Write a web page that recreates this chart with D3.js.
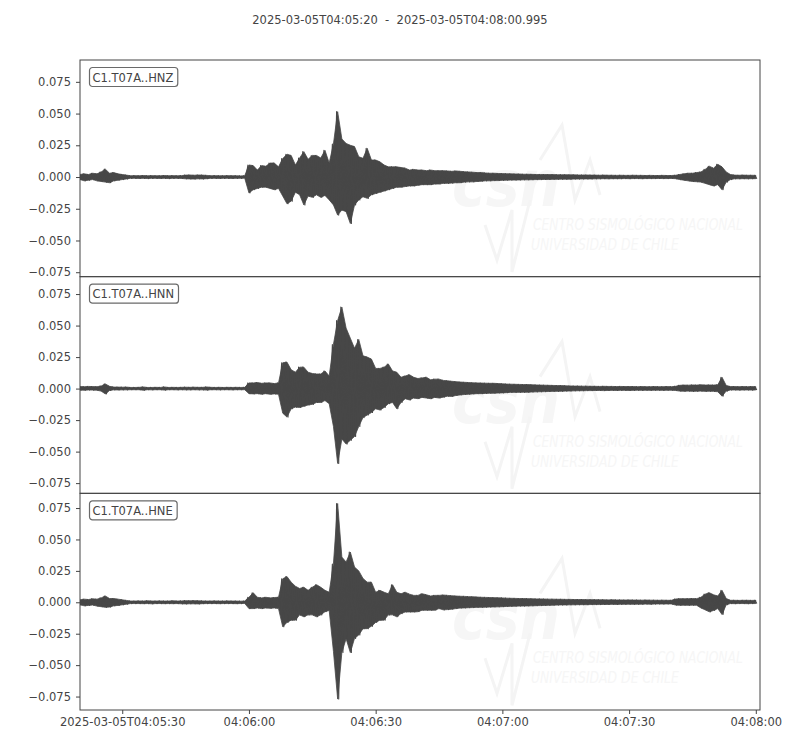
<!DOCTYPE html>
<html>
<head>
<meta charset="utf-8">
<script src="https://cdn.jsdelivr.net/npm/d3@7"></script>
<style>
  body { margin: 0; background: #fff; }
  text { font-family: "DejaVu Sans", sans-serif; }
</style>
</head>
<body>
<div id="chart"></div>
<script>
const title = "2025-03-05T04:05:20  -  2025-03-05T04:08:00.995";
const startTime = new Date(Date.UTC(2025, 2, 5, 4, 5, 20, 0));
const endTime = new Date(Date.UTC(2025, 2, 5, 4, 8, 0, 995));
const channels = ["C1.T07A..HNZ", "C1.T07A..HNN", "C1.T07A..HNE"];
const yTicks = [-0.075, -0.05, -0.025, 0, 0.025, 0.05, 0.075];
const yLimits = [[-0.0785, 0.0922], [-0.0831, 0.0888], [-0.0857, 0.0867]];

// envelope of each trace, one max/min pair per second from 04:05:20
const hnzHi = [
  0.0020, 0.0025, 0.0020, 0.0030, 0.0025, 0.0040, 0.0062, 0.0030, 0.0035, 0.0025, 0.0020, 0.0015,
  0.0010, 0.0011, 0.0010, 0.0012, 0.0010, 0.0011, 0.0010, 0.0010, 0.0012, 0.0010, 0.0011, 0.0010, 0.0011,
  0.0015, 0.0016, 0.0014, 0.0016, 0.0015, 0.0013,
  0.0010, 0.0011, 0.0010, 0.0010, 0.0011, 0.0010, 0.0010, 0.0009, 0.0010,
  0.0095, 0.0090, 0.0055, 0.0090, 0.0085, 0.0110, 0.0110, 0.0080, 0.0145, 0.0180,
  0.0170, 0.0095, 0.0150, 0.0200, 0.0140, 0.0170, 0.0170, 0.0150, 0.0210, 0.0110,
  0.0260, 0.0515, 0.0300, 0.0265, 0.0250, 0.0240, 0.0160, 0.0147, 0.0226, 0.0134,
  0.0134, 0.0120, 0.0095, 0.0080, 0.0080, 0.0080, 0.0075, 0.0070, 0.0055, 0.0060,
  0.0055, 0.0055, 0.0050, 0.0055, 0.0050, 0.0050, 0.0050, 0.0048, 0.0045, 0.0048,
  0.0045, 0.0042, 0.0040, 0.0038, 0.0035, 0.0035, 0.0032, 0.0030, 0.0030, 0.0028,
  0.0027, 0.0026, 0.0025, 0.0024, 0.0024, 0.0022, 0.0022, 0.0021, 0.0020, 0.0020,
  0.0020, 0.0019, 0.0019, 0.0018, 0.0018, 0.0018, 0.0017, 0.0017, 0.0016, 0.0016,
  0.0016,
  0.0015, 0.0015, 0.0014, 0.0015, 0.0014, 0.0014, 0.0013, 0.0014, 0.0013, 0.0013, 0.0014, 0.0013, 0.0013, 0.0012, 0.0013,
  0.0012, 0.0012, 0.0013, 0.0012, 0.0012, 0.0014,
  0.0020, 0.0025, 0.0030, 0.0030, 0.0035, 0.0040, 0.0060, 0.0085, 0.0070, 0.0100, 0.0080, 0.0040, 0.0020,
  0.0015, 0.0014, 0.0015, 0.0014, 0.0014, 0.0013
];
const hnzLo = [
  -0.0020, -0.0030, -0.0025, -0.0020, -0.0030, -0.0035, -0.0040, -0.0045, -0.0030, -0.0025, -0.0020, -0.0015,
  -0.0010, -0.0010, -0.0011, -0.0010, -0.0012, -0.0010, -0.0010, -0.0011, -0.0010, -0.0012, -0.0010, -0.0010, -0.0011,
  -0.0014, -0.0015, -0.0016, -0.0014, -0.0015, -0.0013,
  -0.0010, -0.0010, -0.0011, -0.0010, -0.0010, -0.0011, -0.0010, -0.0010, -0.0009,
  -0.0125, -0.0100, -0.0090, -0.0080, -0.0080, -0.0090, -0.0100, -0.0090, -0.0150, -0.0210,
  -0.0190, -0.0120, -0.0140, -0.0220, -0.0150, -0.0160, -0.0140, -0.0160, -0.0145, -0.0180,
  -0.0220, -0.0300, -0.0260, -0.0273, -0.0366, -0.0220, -0.0180, -0.0155, -0.0168, -0.0140,
  -0.0130, -0.0120, -0.0110, -0.0100, -0.0090, -0.0080, -0.0080, -0.0075, -0.0070, -0.0070,
  -0.0065, -0.0060, -0.0060, -0.0060, -0.0055, -0.0055, -0.0050, -0.0050, -0.0048, -0.0045,
  -0.0045, -0.0040, -0.0038, -0.0038, -0.0035, -0.0033, -0.0030, -0.0030, -0.0028, -0.0028,
  -0.0026, -0.0025, -0.0024, -0.0024, -0.0023, -0.0022, -0.0022, -0.0021, -0.0020, -0.0020,
  -0.0019, -0.0019, -0.0018, -0.0018, -0.0017, -0.0017, -0.0017, -0.0016, -0.0016, -0.0015,
  -0.0015,
  -0.0015, -0.0014, -0.0014, -0.0013, -0.0014, -0.0013, -0.0013, -0.0013, -0.0012, -0.0013, -0.0012, -0.0012, -0.0013, -0.0012, -0.0012,
  -0.0012, -0.0011, -0.0012, -0.0012, -0.0011, -0.0013,
  -0.0020, -0.0025, -0.0030, -0.0035, -0.0037, -0.0040, -0.0050, -0.0060, -0.0070, -0.0060, -0.0100, -0.0040, -0.0020,
  -0.0014, -0.0014, -0.0013, -0.0014, -0.0013, -0.0013
];
const hnnHi = [
  0.0016, 0.0015, 0.0017, 0.0016, 0.0015, 0.0020, 0.0037, 0.0018, 0.0012, 0.0012, 0.0011, 0.0012,
  0.0009, 0.0009, 0.0010, 0.0013, 0.0009, 0.0009, 0.0010, 0.0009, 0.0013, 0.0009, 0.0010, 0.0009, 0.0010, 0.0011,
  0.0010, 0.0011, 0.0010, 0.0010, 0.0013, 0.0010, 0.0009, 0.0010, 0.0009, 0.0010, 0.0009, 0.0010, 0.0009, 0.0010,
  0.0045, 0.0045, 0.0048, 0.0042, 0.0045, 0.0045, 0.0040, 0.0045, 0.0205, 0.0210,
  0.0150, 0.0130, 0.0170, 0.0170, 0.0130, 0.0120, 0.0116, 0.0116, 0.0140, 0.0100,
  0.0350, 0.0540, 0.0647, 0.0480, 0.0400, 0.0320, 0.0390, 0.0260, 0.0250, 0.0234,
  0.0160, 0.0160, 0.0170, 0.0195, 0.0140, 0.0130, 0.0090, 0.0100, 0.0110, 0.0090,
  0.0080, 0.0085, 0.0090, 0.0070, 0.0075, 0.0075, 0.0065, 0.0062, 0.0058, 0.0055,
  0.0052, 0.0050, 0.0048, 0.0046, 0.0045, 0.0044, 0.0043, 0.0042, 0.0042, 0.0040,
  0.0038, 0.0036, 0.0035, 0.0034, 0.0033, 0.0032, 0.0032, 0.0030, 0.0029, 0.0028,
  0.0027, 0.0026, 0.0025, 0.0024, 0.0024, 0.0022, 0.0021, 0.0020, 0.0020, 0.0019,
  0.0019,
  0.0018, 0.0018, 0.0017, 0.0018, 0.0017, 0.0017, 0.0016, 0.0017, 0.0016, 0.0016,
  0.0016, 0.0015, 0.0016, 0.0015, 0.0015, 0.0016, 0.0015, 0.0015, 0.0016, 0.0015,
  0.0018,
  0.0026, 0.0028, 0.0027, 0.0029, 0.0028, 0.0030, 0.0028, 0.0029, 0.0028,
  0.0030, 0.0090, 0.0025,
  0.0016, 0.0016, 0.0015, 0.0016, 0.0015, 0.0016, 0.0015
];
const hnnLo = [
  -0.0012, -0.0013, -0.0011, -0.0012, -0.0013, -0.0020, -0.0042, -0.0015, -0.0010, -0.0011, -0.0010, -0.0010,
  -0.0009, -0.0009, -0.0009, -0.0013, -0.0009, -0.0010, -0.0009, -0.0009, -0.0012, -0.0009, -0.0009, -0.0010, -0.0009, -0.0010,
  -0.0010, -0.0009, -0.0010, -0.0010, -0.0012, -0.0009, -0.0009, -0.0010, -0.0009, -0.0009, -0.0010, -0.0009, -0.0009, -0.0009,
  -0.0040, -0.0042, -0.0040, -0.0045, -0.0040, -0.0045, -0.0042, -0.0045, -0.0195, -0.0226,
  -0.0160, -0.0147, -0.0150, -0.0140, -0.0130, -0.0125, -0.0110, -0.0110, -0.0095, -0.0120,
  -0.0300, -0.0594, -0.0400, -0.0440, -0.0410, -0.0380, -0.0300, -0.0230, -0.0210, -0.0190,
  -0.0160, -0.0170, -0.0150, -0.0120, -0.0110, -0.0160, -0.0110, -0.0080, -0.0090, -0.0075,
  -0.0080, -0.0070, -0.0075, -0.0080, -0.0070, -0.0075, -0.0068, -0.0060, -0.0062, -0.0055,
  -0.0050, -0.0047, -0.0045, -0.0042, -0.0040, -0.0040, -0.0038, -0.0037, -0.0037, -0.0035,
  -0.0034, -0.0032, -0.0030, -0.0030, -0.0030, -0.0029, -0.0029, -0.0027, -0.0026, -0.0025,
  -0.0024, -0.0023, -0.0022, -0.0022, -0.0021, -0.0020, -0.0019, -0.0018, -0.0017, -0.0017,
  -0.0016,
  -0.0016, -0.0015, -0.0015, -0.0016, -0.0015, -0.0014, -0.0015, -0.0014, -0.0014, -0.0015,
  -0.0014, -0.0013, -0.0014, -0.0013, -0.0014, -0.0013, -0.0013, -0.0014, -0.0013, -0.0013,
  -0.0015,
  -0.0020, -0.0021, -0.0020, -0.0022, -0.0021, -0.0020, -0.0022, -0.0021, -0.0022,
  -0.0025, -0.0060, -0.0020,
  -0.0011, -0.0011, -0.0012, -0.0011, -0.0011, -0.0012, -0.0011
];
const hneHi = [
  0.0020, 0.0025, 0.0022, 0.0028, 0.0025, 0.0035, 0.0050, 0.0030, 0.0030, 0.0025, 0.0020, 0.0015,
  0.0010, 0.0010, 0.0011, 0.0010, 0.0012, 0.0010, 0.0010, 0.0011, 0.0010, 0.0010, 0.0012, 0.0010, 0.0011, 0.0013,
  0.0012, 0.0013, 0.0012, 0.0011, 0.0010, 0.0010, 0.0011, 0.0010, 0.0010, 0.0011, 0.0010, 0.0010, 0.0009, 0.0010,
  0.0040, 0.0076, 0.0040, 0.0035, 0.0040, 0.0035, 0.0038, 0.0040, 0.0187, 0.0205,
  0.0160, 0.0128, 0.0110, 0.0120, 0.0095, 0.0120, 0.0140, 0.0120, 0.0095, 0.0080,
  0.0305, 0.0786, 0.0360, 0.0320, 0.0400, 0.0280, 0.0250, 0.0190, 0.0160, 0.0160,
  0.0080, 0.0095, 0.0080, 0.0068, 0.0140, 0.0080, 0.0068, 0.0080, 0.0065, 0.0055,
  0.0055, 0.0068, 0.0060, 0.0050, 0.0055, 0.0055, 0.0058, 0.0055, 0.0052, 0.0050,
  0.0048, 0.0047, 0.0045, 0.0044, 0.0042, 0.0040, 0.0039, 0.0038, 0.0037, 0.0036,
  0.0035, 0.0033, 0.0032, 0.0031, 0.0030, 0.0030, 0.0029, 0.0028, 0.0027, 0.0027,
  0.0026, 0.0025, 0.0025, 0.0024, 0.0024,
  0.0023, 0.0023, 0.0022, 0.0022, 0.0022, 0.0021, 0.0021, 0.0021,
  0.0020, 0.0020, 0.0019, 0.0020, 0.0019, 0.0019, 0.0018, 0.0019, 0.0018,
  0.0018, 0.0017, 0.0018, 0.0017, 0.0017, 0.0016, 0.0017, 0.0016, 0.0016,
  0.0026, 0.0029, 0.0028, 0.0029, 0.0030, 0.0029,
  0.0040, 0.0065, 0.0076, 0.0060, 0.0050, 0.0095, 0.0030,
  0.0016, 0.0016, 0.0015, 0.0016, 0.0016, 0.0015, 0.0016
];
const hneLo = [
  -0.0020, -0.0028, -0.0025, -0.0022, -0.0030, -0.0035, -0.0040, -0.0038, -0.0028, -0.0025, -0.0020, -0.0015,
  -0.0010, -0.0010, -0.0010, -0.0011, -0.0010, -0.0012, -0.0010, -0.0010, -0.0011, -0.0010, -0.0011, -0.0010, -0.0012, -0.0013,
  -0.0012, -0.0012, -0.0013, -0.0011, -0.0010, -0.0010, -0.0010, -0.0011, -0.0010, -0.0010, -0.0010, -0.0011, -0.0010, -0.0009,
  -0.0050, -0.0050, -0.0045, -0.0050, -0.0045, -0.0048, -0.0045, -0.0050, -0.0195, -0.0160,
  -0.0142, -0.0142, -0.0100, -0.0115, -0.0100, -0.0100, -0.0115, -0.0100, -0.0075, -0.0065,
  -0.0390, -0.0770, -0.0400, -0.0290, -0.0400, -0.0287, -0.0260, -0.0210, -0.0210, -0.0190,
  -0.0160, -0.0142, -0.0142, -0.0100, -0.0100, -0.0115, -0.0090, -0.0077, -0.0077, -0.0077,
  -0.0075, -0.0063, -0.0063, -0.0063, -0.0063, -0.0050, -0.0060, -0.0058, -0.0055, -0.0050,
  -0.0046, -0.0045, -0.0043, -0.0042, -0.0040, -0.0040, -0.0039, -0.0038, -0.0037, -0.0036,
  -0.0035, -0.0033, -0.0032, -0.0031, -0.0030, -0.0030, -0.0029, -0.0028, -0.0027, -0.0026,
  -0.0025, -0.0024, -0.0023, -0.0022, -0.0021,
  -0.0021, -0.0020, -0.0020, -0.0019, -0.0019, -0.0019, -0.0018, -0.0018,
  -0.0018, -0.0017, -0.0017, -0.0016, -0.0017, -0.0016, -0.0016, -0.0015, -0.0016,
  -0.0015, -0.0015, -0.0014, -0.0015, -0.0014, -0.0013, -0.0014, -0.0013, -0.0013,
  -0.0022, -0.0024, -0.0023, -0.0024, -0.0023, -0.0024,
  -0.0045, -0.0060, -0.0076, -0.0065, -0.0050, -0.0097, -0.0020,
  -0.0010, -0.0011, -0.0010, -0.0010, -0.0011, -0.0010, -0.0010
];

const traces = [
  { hi: hnzHi, lo: hnzLo },
  { hi: hnnHi, lo: hnnLo },
  { hi: hneHi, lo: hneLo }
];

const width = 800, height = 750;
const margin = { top: 60, right: 40, bottom: 40, left: 80 };
const plotW = width - margin.left - margin.right;
const panelH = (height - margin.top - margin.bottom) / channels.length;
const ink = "#444";
const wave = "#474747";
const fontSize = "11.5px";

const svg = d3.select("#chart")
  .append("svg")
    .attr("width", width)
    .attr("height", height);

svg.append("text")
  .attr("x", width / 2)
  .attr("y", 24)
  .attr("text-anchor", "middle")
  .style("font-size", fontSize)
  .style("white-space", "pre")
  .attr("fill", ink)
  .text(title);

const x = d3.scaleUtc()
  .domain([startTime, endTime])
  .range([margin.left, margin.left + plotW]);

const sampleTime = s => new Date(startTime.getTime() + s * 1000);

// squeeze a text horizontally so it spans a given width
function squeeze(sel, x0, y0, w) {
  const natural = sel.node().getComputedTextLength();
  sel.attr("transform", `translate(${x0},${y0}) scale(${w / natural},1)`);
}

channels.forEach((name, k) => {
  const top = margin.top + k * panelH;
  const y = d3.scaleLinear()
    .domain(yLimits[k])
    .range([top + panelH, top]);

  const panel = svg.append("g");

  panel.append("clipPath")
    .attr("id", `clip${k}`)
    .append("rect")
      .attr("x", margin.left)
      .attr("y", top)
      .attr("width", plotW)
      .attr("height", panelH);

  // faint CSN watermark
  const wm = panel.append("g").attr("fill", "#f6f6f6");
  const logo = wm.append("text")
    .style("font-size", "64px").style("font-weight", "bold").style("font-style", "italic")
    .text("csn");
  squeeze(logo, 452, top + 146, 108);
  wm.append("path")
    .attr("fill", "none").attr("stroke", "#f4f4f4").attr("stroke-width", 3)
    .attr("d", `M485,${top + 165} L497,${top + 200} L512,${top + 150} L512,${top + 212}` +
               ` L530,${top + 140} M540,${top + 100} L562,${top + 65} L575,${top + 140}` +
               ` L590,${top + 100} L600,${top + 135}`);
  const l1 = wm.append("text")
    .style("font-size", "16px").style("font-style", "italic")
    .text("CENTRO SISMOLÓGICO NACIONAL");
  squeeze(l1, 533, top + 170, 210);
  const l2 = wm.append("text")
    .style("font-size", "16px").style("font-style", "italic")
    .text("UNIVERSIDAD DE CHILE");
  squeeze(l2, 531, top + 190, 148);

  const tr = traces[k];
  const g = panel.append("g").attr("clip-path", `url(#clip${k})`);

  // envelope body
  g.append("path")
    .datum(tr.hi.map((h, i) => ({ t: i, hi: h, lo: tr.lo[i] })))
    .attr("fill", wave)
    .attr("stroke", wave)
    .attr("stroke-width", 0.8)
    .attr("d", d3.area()
      .x(d => x(sampleTime(d.t)))
      .y0(d => y(d.lo))
      .y1(d => y(d.hi)));

  // zigzag through each second's max then min
  const pts = [];
  tr.hi.forEach((h, i) => {
    pts.push({ t: i - 0.25, v: h });
    pts.push({ t: i + 0.25, v: tr.lo[i] });
  });
  g.append("path")
    .datum(pts)
    .attr("fill", "none")
    .attr("stroke", wave)
    .attr("stroke-width", 1.1)
    .attr("stroke-linejoin", "round")
    .attr("d", d3.line()
      .x(d => x(sampleTime(d.t)))
      .y(d => y(d.v)));

  // frame
  panel.append("rect")
    .attr("x", margin.left)
    .attr("y", top)
    .attr("width", plotW)
    .attr("height", panelH)
    .attr("fill", "none")
    .attr("stroke", ink)
    .attr("stroke-width", 1);

  // y axis
  const ya = panel.append("g")
    .attr("transform", `translate(${margin.left},0)`)
    .call(d3.axisLeft(y).tickValues(yTicks).tickFormat(d3.format(".3f")).tickSize(4).tickPadding(5));
  ya.select(".domain").remove();
  ya.selectAll("line").attr("stroke", ink);
  ya.selectAll("text")
    .attr("fill", ink)
    .style("font-size", fontSize)
    .style("font-family", "DejaVu Sans, sans-serif");

  // channel label
  const lbl = panel.append("g").attr("transform", `translate(89.5,${top + 7.5})`);
  const lt = lbl.append("text")
    .attr("x", 3)
    .attr("y", 14)
    .attr("fill", ink)
    .style("font-size", fontSize)
    .text(name);
  const bw = lt.node().getComputedTextLength() + 7.5;
  lbl.insert("rect", "text")
    .attr("x", 0).attr("y", 0)
    .attr("width", bw).attr("height", 19)
    .attr("rx", 3)
    .attr("fill", "#fff")
    .attr("stroke", "#6a6a6a")
    .attr("stroke-width", 1.2);

  // time axis only under the last panel
  if (k === channels.length - 1) {
    const fmtFull = d3.utcFormat("%Y-%m-%dT%H:%M:%S");
    const fmtShort = d3.utcFormat("%H:%M:%S");
    const tv = x.ticks(d3.utcSecond.every(30));
    const xa = panel.append("g")
      .attr("transform", `translate(0,${top + panelH})`)
      .call(d3.axisBottom(x).tickValues(tv)
        .tickFormat((d, i) => i === 0 ? fmtFull(d) : fmtShort(d))
        .tickSize(4).tickPadding(3.5));
    xa.select(".domain").remove();
    xa.selectAll("line").attr("stroke", ink);
    xa.selectAll("text")
      .attr("fill", ink)
      .style("font-size", fontSize)
      .style("font-family", "DejaVu Sans, sans-serif");
  }
});
</script>
</body>
</html>
